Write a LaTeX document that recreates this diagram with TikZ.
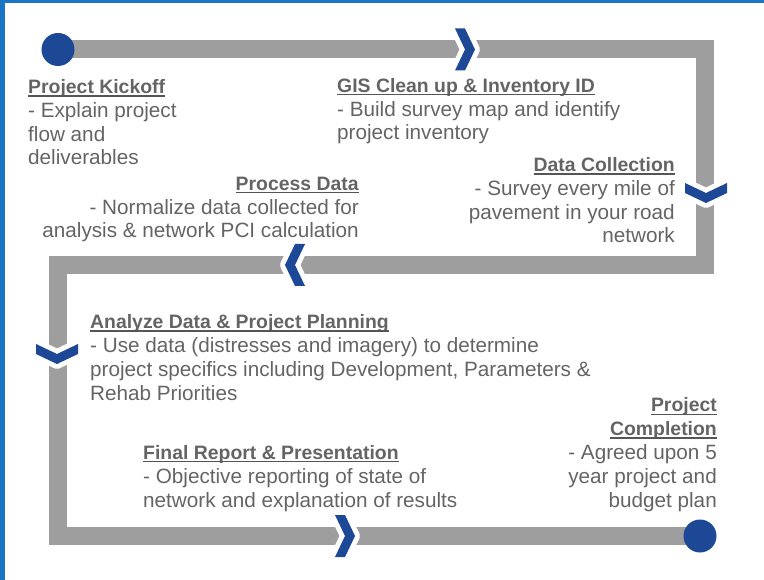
\documentclass[tikz,border=0pt]{standalone}
\usepackage{fontspec}
\setmainfont{Liberation Sans}
\usetikzlibrary{positioning}
\definecolor{track}{RGB}{158,158,158}
\definecolor{navy}{RGB}{28,72,150}
\definecolor{frameblue}{RGB}{26,117,196}
\definecolor{txt}{RGB}{100,100,100}
\definecolor{headgray}{RGB}{85,85,85}
\newsavebox{\headbox}
\newcommand{\stephead}[1]{{\fontsize{19.4}{23.8}\selectfont\sbox{\headbox}{\textbf{#1}}%
	\textcolor{headgray}{\rlap{\usebox{\headbox}}\rule[-3pt]{\wd\headbox}{1.3pt}}}}

\begin{document}
\begin{tikzpicture}[x=1pt,y=1pt]
	\tikzstyle{every node}+=[inner sep=0pt]
	\tikzstyle{block}=[font=\fontsize{20.7}{23.8}\selectfont, text=txt]
	\tikzstyle{dot}=[circle, fill=navy, minimum size=33pt]
	\tikzstyle{bar}=[draw=track, line width=18pt, line join=miter]
	\tikzstyle{chev}=[fill=navy, preaction={draw=white, line width=10pt, line join=round}]
	\tikzset{pics/chevron/.style={code={
		\path [chev] (-10,21) -- (0,21) -- (10,0) -- (0,-21) -- (-10,-21) -- (0,0) -- cycle;}}}
	\useasboundingbox (0,0) rectangle (764,-580);
	\fill [frameblue] (0,0) rectangle (5,-580);
	\fill [frameblue] (0,0) rectangle (764,-3);
	% track
	\coordinate (start) at (58,-49.5);
	\coordinate (finish) at (700,-536);
	\draw [bar] (start) -- (705,-49.5) -- (705,-265.5) -- (58,-265.5) -- (58,-536) -- (finish);
	\pic at (465,-49.5) {chevron};
	\pic [rotate=-90] at (706,-193) {chevron};
	\pic [rotate=180] at (295,-265) {chevron};
	\pic [rotate=-90] at (57,-354) {chevron};
	\pic at (345,-536) {chevron};
	\node [dot] (kickoff) at (start) {};
	\node [dot] (done) at (finish) {};
	% steps (anchored at the baseline of the last line)
	\node [block, anchor=base west, align=left] (kick) at (28,-165)
		{\stephead{Project Kickoff}\\- Explain project\\flow and\\deliverables};
	\node [block, anchor=base west, align=left] (gis) at (337,-140)
		{\stephead{GIS Clean up \& Inventory ID}\\- Build survey map and identify\\project inventory};
	\node [block, anchor=base east, align=right] (collect) at (675,-243)
		{\stephead{Data Collection}\\- Survey every mile of\\pavement in your road\\network};
	\node [block, anchor=base east, align=right] (process) at (359,-238)
		{\stephead{Process Data}\\- Normalize data collected for\\analysis \& network PCI calculation};
	\node [block, anchor=base west, align=left] (analyze) at (90,-400)
		{\stephead{Analyze Data \& Project Planning}\\- Use data (distresses and imagery) to determine\\project specifics including Development, Parameters \&\\Rehab Priorities};
	\node [block, anchor=base west, align=left] (report) at (143,-507)
		{\stephead{Final Report \& Presentation}\\- Objective reporting of state of\\network and explanation of results};
	\node [block, anchor=base east, align=right] (complete) at (717,-507)
		{\stephead{Project}\\\stephead{Completion}\\- Agreed upon 5\\year project and\\budget plan};
\end{tikzpicture}
\end{document}
